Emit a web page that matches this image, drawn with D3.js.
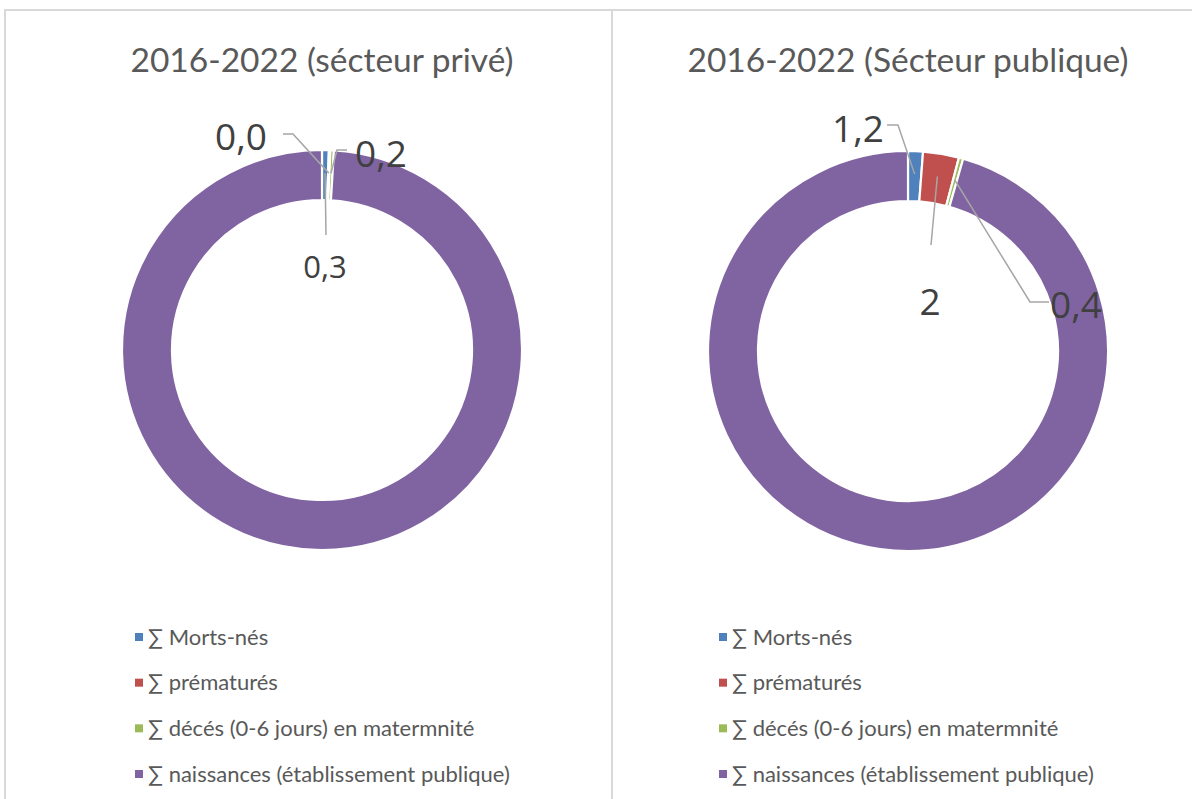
<!DOCTYPE html>
<html>
<head>
<meta charset="utf-8">
<script src="https://cdn.jsdelivr.net/npm/d3@7"></script>
<style>
  html, body { margin: 0; padding: 0; background: #ffffff; }
  svg { display: block; }
</style>
</head>
<body>
<svg id="chart" width="1192" height="799"></svg>
<script>
// ---- data ----
const categories = [
  "∑ Morts-nés",
  "∑ prématurés",
  "∑ décés (0-6 jours) en matermnité",
  "∑ naissances (établissement publique)"
];
const titles = ["2016-2022 (sécteur privé)", "2016-2022 (Sécteur publique)"];
// slice shares as read from the ring (percent of the ring)
const priveValues  = [0.55, 0.12, 0.28, 99.05];
const publicValues = [1.2, 2.9, 0.35, 95.55];
// data labels shown on the chart
const priveLabels  = ["0,3", "0,0", "0,2", null];
const publicLabels = ["1,2", "2", "0,4", null];
const colors = ["#4F81BD", "#C0504D", "#9BBB59", "#8064A2"];

// ---- layout ----
const svg = d3.select("#chart");
const panels = [
  { cx: 322, cy: 350, values: priveValues, labels: priveLabels, title: titles[0],
    legendX: 135,
    labelPos: [
      { x: 325, y: 278, anchor: "middle", size: 31, line: [[326, 235]] },
      { x: 267, y: 150, anchor: "end", size: 37, line: [[283, 134], [293, 134]] },
      { x: 355, y: 167, anchor: "start", size: 37, line: [[347, 150], [337, 150]] }
    ] },
  { cx: 908, cy: 351, values: publicValues, labels: publicLabels, title: titles[1],
    legendX: 719,
    labelPos: [
      { x: 884, y: 142, anchor: "end", size: 37, line: [[887, 125], [898, 125]] },
      { x: 930, y: 315, anchor: "middle", size: 37, line: [[931, 245]] },
      { x: 1050, y: 318, anchor: "start", size: 37, line: [[1049, 302], [1030, 302]] }
    ] }
];

const outerR = 200, innerR = 150, leaderR = 177;
const pie = d3.pie().sort(null).value(d => d);
const arc = d3.arc().innerRadius(innerR).outerRadius(outerR);

// frame
svg.append("path")
  .attr("d", "M5,799 L5,10 L1192,10")
  .attr("fill", "none").attr("stroke", "#d9d9d9").attr("stroke-width", 2);
svg.append("line")
  .attr("x1", 612).attr("x2", 612).attr("y1", 10).attr("y2", 799)
  .attr("stroke", "#d9d9d9").attr("stroke-width", 2);

panels.forEach(p => {
  const g = svg.append("g");
  // title
  g.append("text")
    .attr("x", p.cx).attr("y", 72)
    .attr("text-anchor", "middle")
    .attr("font-family", "Lato, 'Open Sans', sans-serif")
    .attr("font-size", 33.5)
    .attr("fill", "#595959")
    .text(p.title);

  const arcs = pie(p.values);
  const ring = g.append("g").attr("transform", `translate(${p.cx},${p.cy})`);
  ring.selectAll("path")
    .data(arcs)
    .join("path")
    .attr("d", arc)
    .attr("fill", (d, i) => colors[i])
    .attr("stroke", "#ffffff")
    .attr("stroke-width", 2.2);

  // leader lines + labels
  arcs.forEach((a, i) => {
    if (p.labels[i] == null) return;
    const lp = p.labelPos[i];
    const mid = (a.startAngle + a.endAngle) / 2;
    const end = [p.cx + leaderR * Math.sin(mid), p.cy - leaderR * Math.cos(mid)];
    const pts = lp.line.concat([end]);
    g.append("path")
      .attr("d", d3.line()(pts))
      .attr("fill", "none")
      .attr("stroke", "#a6a6a6")
      .attr("stroke-width", 1.5);
    g.append("text")
      .attr("x", lp.x).attr("y", lp.y)
      .attr("text-anchor", lp.anchor)
      .attr("font-family", "'Open Sans', 'Noto Sans', sans-serif")
      .attr("font-size", lp.size)
      .attr("fill", "#404040")
      .text(p.labels[i]);
  });

  // legend
  const legendY = d3.scalePoint().domain(categories).range([637, 774]);
  const lg = g.append("g");
  categories.forEach((c, i) => {
    const y = legendY(c);
    lg.append("rect")
      .attr("x", p.legendX).attr("y", y - 4)
      .attr("width", 8).attr("height", 8)
      .attr("fill", colors[i]);
    lg.append("text")
      .attr("x", p.legendX + 13).attr("y", y + 7.5)
      .attr("font-family", "Lato, 'Open Sans', sans-serif")
      .attr("font-size", 22)
      .attr("fill", "#595959")
      .text(c);
  });
});
</script>
</body>
</html>
